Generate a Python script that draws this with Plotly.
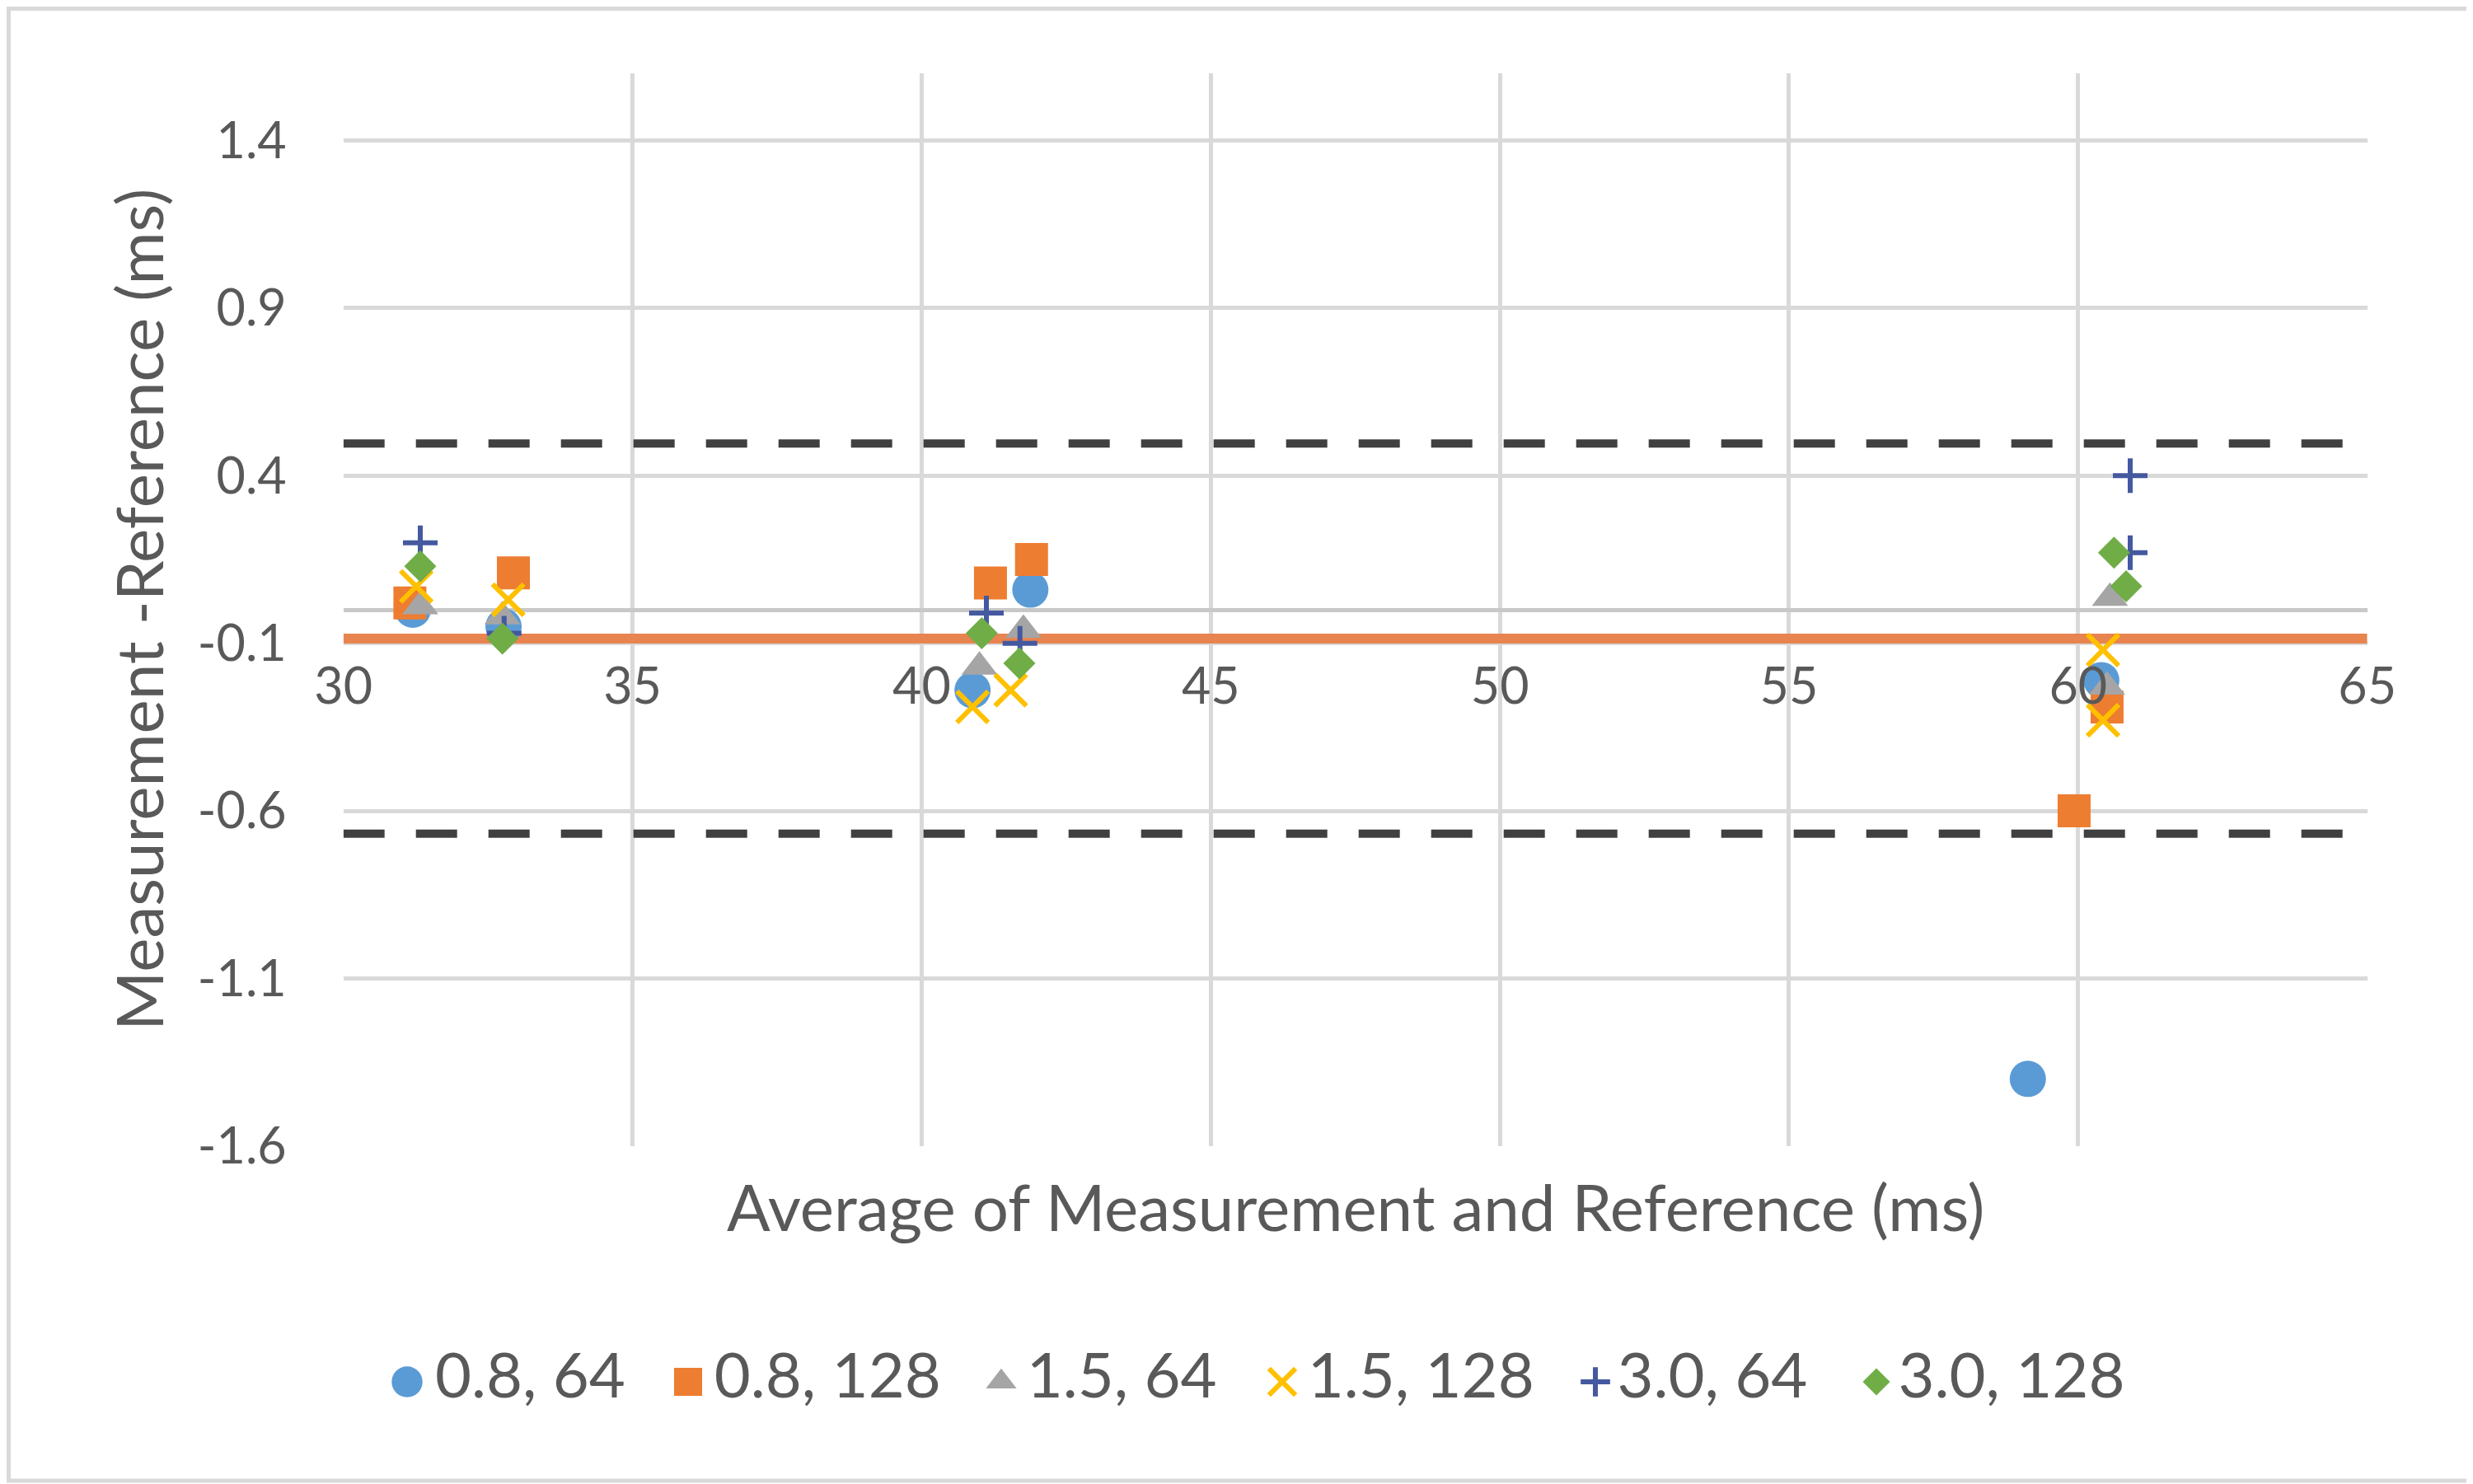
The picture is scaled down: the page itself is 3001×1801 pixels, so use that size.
import plotly.graph_objects as go

# series names (spot size, matrix)
series_names = ['0.8, 64', '0.8, 128', '1.5, 64', '1.5, 128', '3.0, 64', '3.0, 128']

# average of measurement and reference (ms)
avg_08_64 = [31.20, 32.77, 40.88, 41.88, 60.40, 59.13]
avg_08_128 = [31.15, 32.94, 41.19, 41.90, 60.50, 59.93]
avg_15_64 = [31.33, 32.75, 41.00, 41.76, 60.55, 60.50]
avg_15_128 = [31.26, 32.85, 40.88, 41.54, 60.43, 60.43]
avg_30_64 = [31.33, 32.78, 41.12, 41.70, 60.90, 60.90]
avg_30_128 = [31.33, 32.75, 41.04, 41.69, 60.62, 60.83]

# measurement - reference (ms)
diff_08_64 = [0.00, -0.05, -0.24, 0.06, -0.21, -1.40]
diff_08_128 = [0.02, 0.11, 0.08, 0.15, -0.29, -0.60]
diff_15_64 = [0.01, -0.02, -0.17, -0.06, 0.035, -0.23]
diff_15_128 = [0.07, 0.03, -0.29, -0.24, -0.12, -0.33]
diff_30_64 = [0.20, -0.07, -0.01, -0.10, 0.40, 0.17]
diff_30_128 = [0.13, -0.086, -0.07, -0.16, 0.17, 0.07]

# bias and limits of agreement
bias = -0.086
upper_loa = 0.496
lower_loa = -0.668
line_x = [30, 65]

x_ticks = [30, 35, 40, 45, 50, 55, 60, 65]
y_ticks = [-1.6, -1.1, -0.6, -0.1, 0.4, 0.9, 1.4]

xs = [avg_08_64, avg_08_128, avg_15_64, avg_15_128, avg_30_64, avg_30_128]
ys = [diff_08_64, diff_08_128, diff_15_64, diff_15_128, diff_30_64, diff_30_128]

colors = ['#5B9BD5', '#ED7D31', '#A5A5A5', '#FFC000', '#44599F', '#70AD47']
symbols = ['circle', 'square', 'triangle-up', 'x-thin', 'cross-thin', 'diamond']
sizes = [44, 40, 38, 38, 30, 30]

TXT = '#595959'
GRID = '#D9D9D9'
FONT = 'Lato'

# page has an 8px body margin, so the figure is a bit smaller than the window
W, H = 2993, 1793
OFF = 8


def px_x(x):  # screen px -> paper fraction
    return (x - OFF) / W


def px_y(y):
    return 1 - (y - OFF) / H


# plot area in screen pixels
P_L, P_R, P_T, P_B = 416.7, 2872.7, 89.3, 1390.7
LEG_H = 220  # legend strip height in px, bottom of figure
LEG_Y = 1677  # legend row centre, screen px

fig = go.Figure()

# limits of agreement (dashed) and mean bias (orange)
for lvl in [upper_loa, lower_loa]:
    fig.add_trace(go.Scatter(x=line_x, y=[lvl, lvl], mode='lines',
                             line=dict(color='#404040', width=10, dash='50px,38px'),
                             showlegend=False, hoverinfo='skip'))
fig.add_trace(go.Scatter(x=line_x, y=[bias, bias], mode='lines',
                         line=dict(color='#E8844F', width=12),
                         showlegend=False, hoverinfo='skip'))


def make_marker(c, s, sz):
    if s.endswith('-thin'):
        return dict(symbol=s, size=sz, color=c, line=dict(color=c, width=6))
    return dict(symbol=s, size=sz, color=c, line=dict(width=0))


for name, x, y, c, s, sz in zip(series_names, xs, ys, colors, symbols, sizes):
    fig.add_trace(go.Scatter(x=x, y=y, mode='markers', name=name,
                             marker=make_marker(c, s, sz), showlegend=False))

# legend drawn on its own pixel axis so the symbols can be as large as Excel's
leg_x = 494 - OFF
for name, c, s, sz in zip(series_names, colors, symbols, sizes):
    fig.add_trace(go.Scatter(
        x=[leg_x], y=[H - (LEG_Y - OFF)], mode='markers+text',
        text=['\u2009' + name], textposition='middle right',
        textfont=dict(family=FONT, size=76, color=TXT),
        marker=make_marker(c, s, sz * 0.85), xaxis='x2', yaxis='y2',
        showlegend=False, hoverinfo='skip', cliponaxis=False))
    leg_x += 341 + 39 * (len(name) - 7)

fig.update_layout(
    xaxis=dict(
        domain=[px_x(P_L), px_x(P_R)], automargin=False,
        range=[30, 65], tickvals=x_ticks, showgrid=True, gridcolor=GRID, gridwidth=5,
        zeroline=False, showline=False, anchor='free', position=px_y((P_T + P_B) / 2),
        ticks='', ticklabelstandoff=52,
        tickfont=dict(family=FONT, size=61, color=TXT),
    ),
    yaxis=dict(
        domain=[px_y(P_B), px_y(P_T)], automargin=False,
        range=[-1.6, 1.6], tickvals=y_ticks, ticktext=[f'{v:.1f}' for v in y_ticks],
        showgrid=True, gridcolor=GRID, gridwidth=5,
        zeroline=True, zerolinecolor='#C8C8C8', zerolinewidth=5,
        showline=False, ticks='', ticklabelstandoff=68,
        tickfont=dict(family=FONT, size=61, color=TXT),
    ),
    xaxis2=dict(domain=[0, 1], range=[0, W], visible=False, anchor='y2', automargin=False),
    yaxis2=dict(domain=[0, LEG_H / H], range=[0, LEG_H], visible=False, anchor='x2',
                automargin=False),
    width=W, height=H,
    margin=dict(l=0, r=0, t=0, b=0, autoexpand=False),
    paper_bgcolor='white', plot_bgcolor='white',
    font=dict(family=FONT, color=TXT),
    showlegend=False,
    annotations=[
        dict(text='Average of Measurement and Reference (ms)', xref='paper', yref='paper',
             x=px_x((P_L + P_R) / 2), y=px_y(1464), xanchor='center', yanchor='middle',
             showarrow=False, font=dict(family=FONT, size=78, color=TXT)),
        dict(text='Measurement -Reference (ms)', xref='paper', yref='paper',
             x=px_x(168), y=px_y((P_T + P_B) / 2), xanchor='center', yanchor='middle',
             textangle=-90, showarrow=False, font=dict(family=FONT, size=78, color=TXT)),
    ],
    shapes=[
        dict(type='rect', xref='paper', yref='paper',
             x0=px_x(OFF + 2.5), x1=px_x(2997), y0=px_y(1797), y1=px_y(OFF + 2.5),
             line=dict(color=GRID, width=5), layer='below'),
    ],
)

fig.write_html('out.html')
